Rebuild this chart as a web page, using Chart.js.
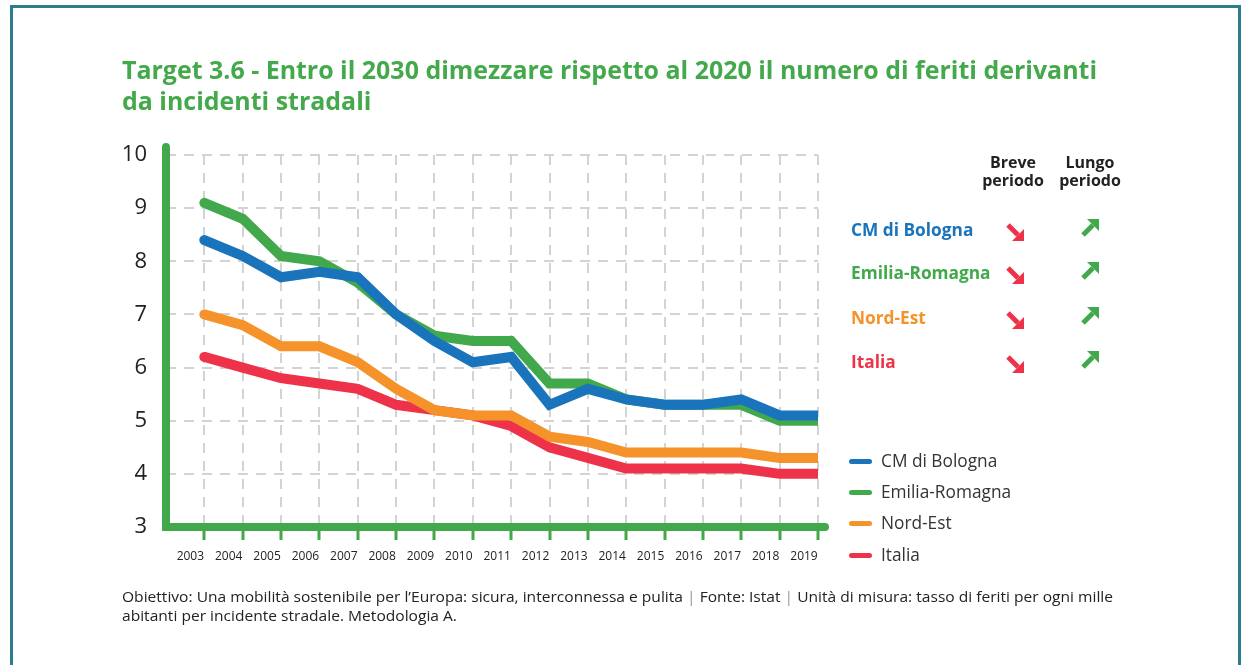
<!DOCTYPE html>
<html>
<head>
<meta charset="utf-8">
<script src="https://cdn.jsdelivr.net/npm/chart.js@4"></script>
<style>
  html, body { margin: 0; padding: 0; background: #fff; }
  body { width: 1241px; height: 665px; position: relative; overflow: hidden; font-family: "Open Sans", sans-serif; }
  #frame { position: absolute; left: 10px; top: 5px; width: 1231px; height: 700px; border: 3px solid #2b7c8d; border-bottom: none; box-sizing: border-box; }
  #chart { position: absolute; left: 0; top: 0; }
  .t { position: absolute; white-space: nowrap; transform-origin: left center; display: inline-block; }
  .title { color: #43a94b; font-weight: 700; font-size: 25px; line-height: 30px; left: 122px; }
  .note { color: #222; font-size: 14px; line-height: 18px; left: 122px; }
  .head { color: #222; font-weight: 700; font-size: 16px; line-height: 18px; text-align: center; width: 90px; }
  .row { font-weight: 700; font-size: 17.3px; line-height: 20px; left: 851px; }
  .leg { color: #333; font-size: 17.3px; line-height: 20px; left: 881px; }
  .sw { position: absolute; left: 849px; width: 23px; height: 5px; border-radius: 3px; }
  .arrow { position: absolute; width: 20px; height: 20px; }
</style>
</head>
<body>
<div id="frame"></div>
<canvas id="chart" width="1241" height="665"></canvas>
<div class="t title" id="t1" style="top:54px">Target 3.6 - Entro il 2030 dimezzare rispetto al 2020 il numero di feriti derivanti</div>
<div class="t title" id="t2" style="top:85px">da incidenti stradali</div>
<div class="t head" style="left:968px;top:153px">Breve<br>periodo</div>
<div class="t head" style="left:1045px;top:153px">Lungo<br>periodo</div>
<div id="side"></div>
<div class="t note" id="n1" style="top:588px">Obiettivo: Una mobilità sostenibile per l’Europa: sicura, interconnessa e pulita <span style="color:#999">|</span> Fonte: Istat <span style="color:#999">|</span> Unità di misura: tasso di feriti per ogni mille</div>
<div class="t note" id="n2" style="top:607px">abitanti per incidente stradale. Metodologia A.</div>
<script>
const years = [2003, 2004, 2005, 2006, 2007, 2008, 2009, 2010, 2011, 2012, 2013, 2014, 2015, 2016, 2017, 2018, 2019];
const seriesNames = ["CM di Bologna", "Emilia-Romagna", "Nord-Est", "Italia"];
const seriesColors = ["#1a74bb", "#41a94b", "#f5922a", "#ee3249"];
const bologna = [8.4, 8.1, 7.7, 7.8, 7.7, 7.0, 6.5, 6.1, 6.2, 5.3, 5.6, 5.4, 5.3, 5.3, 5.4, 5.1, 5.1];
const emilia = [9.1, 8.8, 8.1, 8.0, 7.6, 7.0, 6.6, 6.5, 6.5, 5.7, 5.7, 5.4, 5.3, 5.3, 5.3, 5.0, 5.0];
const nordEst = [7.0, 6.8, 6.4, 6.4, 6.1, 5.6, 5.2, 5.1, 5.1, 4.7, 4.6, 4.4, 4.4, 4.4, 4.4, 4.3, 4.3];
const italia = [6.2, 6.0, 5.8, 5.7, 5.6, 5.3, 5.2, 5.1, 4.9, 4.5, 4.3, 4.1, 4.1, 4.1, 4.1, 4.0, 4.0];
const seriesData = [bologna, emilia, nordEst, italia];
const yMin = 3, yMax = 10;
const shortTrend = ["down", "down", "down", "down"];
const longTrend = ["up", "up", "up", "up"];

const axisGreen = "#41a94b";

// fit title and note lines to the widths in the original
function fitPair(a, b, w) {
  const el = document.getElementById(a);
  const s = w / el.getBoundingClientRect().width;
  [a, b].forEach(id => document.getElementById(id).style.transform = "scaleX(" + s + ")");
}
fitPair("t1", "t2", 975);
fitPair("n1", "n2", 991);

// side panel: trend arrows and legend
function arrowSvg(dir) {
  const col = dir === "down" ? "#ee3249" : "#41a94b";
  const g = dir === "down" ? "" : ' transform="translate(0,20) scale(1,-1)"';
  return '<svg class="arrow" viewBox="0 0 20 20"><g' + g + '>' +
    '<line x1="3" y1="3" x2="13" y2="13" stroke="' + col + '" stroke-width="5"/>' +
    '<polygon points="19,19 19,7 7,19" fill="' + col + '"/></g></svg>';
}
const rowY = [230, 273, 318, 362];
const legY = [461, 492, 523, 555];
let html = "";
seriesNames.forEach((name, i) => {
  html += '<div class="t row" style="top:' + (rowY[i] - 10) + 'px;color:' + seriesColors[i] + '">' + name + '</div>';
  html += '<div style="position:absolute;left:1005px;top:' + (rowY[i] - 8) + 'px">' + arrowSvg(shortTrend[i]) + '</div>';
  html += '<div style="position:absolute;left:1080px;top:' + (rowY[i] - 12) + 'px">' + arrowSvg(longTrend[i]) + '</div>';
  html += '<div class="sw" style="top:' + (legY[i] - 2) + 'px;background:' + seriesColors[i] + '"></div>';
  html += '<div class="t leg" style="top:' + (legY[i] - 10) + 'px">' + name + '</div>';
});
document.getElementById("side").innerHTML = html;

const greenAxes = {
  id: "greenAxes",
  afterDraw(chart) {
    const { ctx, chartArea: a } = chart;
    ctx.save();
    ctx.strokeStyle = axisGreen;
    ctx.lineWidth = 8;
    ctx.lineCap = "round";
    ctx.beginPath();
    ctx.moveTo(a.left, a.top - 8);
    ctx.lineTo(a.left, a.bottom);
    ctx.lineTo(a.right + 7, a.bottom);
    ctx.stroke();
    ctx.restore();
  }
};

new Chart(document.getElementById("chart"), {
  type: "line",
  data: {
    datasets: seriesNames.map((name, i) => ({
      label: name,
      data: years.map((y, j) => ({ x: y, y: seriesData[i][j] })),
      borderColor: seriesColors[i],
      borderWidth: 10,
      borderCapStyle: "round",
      borderJoinStyle: "miter",
      pointRadius: 0,
      tension: 0,
      fill: false
    }))
  },
  options: {
    responsive: false,
    animation: false,
    layout: { padding: { left: 100, top: 155, right: 423, bottom: 0 } },
    plugins: { legend: { display: false }, tooltip: { enabled: false } },
    scales: {
      x: {
        type: "linear",
        min: years[0] - 1,
        max: years[years.length - 1],
        afterFit: s => { s.height = 138; },
        border: { display: false, dash: [10, 8] },
        grid: {
          color: c => c.tick && c.tick.value < years[0] ? "transparent" : "#d3d3d3",
          lineWidth: 2,
          tickLength: 13,
          tickWidth: 3,
          tickColor: c => c.tick && c.tick.value < years[0] ? "transparent" : axisGreen
        },
        ticks: {
          stepSize: 1,
          padding: 9,
          labelOffset: -14,
          color: "#222",
          font: { family: "Open Sans", size: 12 },
          maxRotation: 0,
          autoSkip: false,
          callback: v => v < years[0] ? "" : String(v)
        }
      },
      y: {
        min: yMin,
        max: yMax,
        afterFit: s => { s.width = 66; },
        border: { display: false, dash: [10, 8] },
        grid: { color: "#d3d3d3", lineWidth: 2, drawTicks: false },
        ticks: {
          stepSize: 1,
          padding: 19,
          color: "#222",
          font: { family: "Open Sans", size: 22 }
        }
      }
    }
  },
  plugins: [greenAxes]
});
</script>
</body>
</html>
